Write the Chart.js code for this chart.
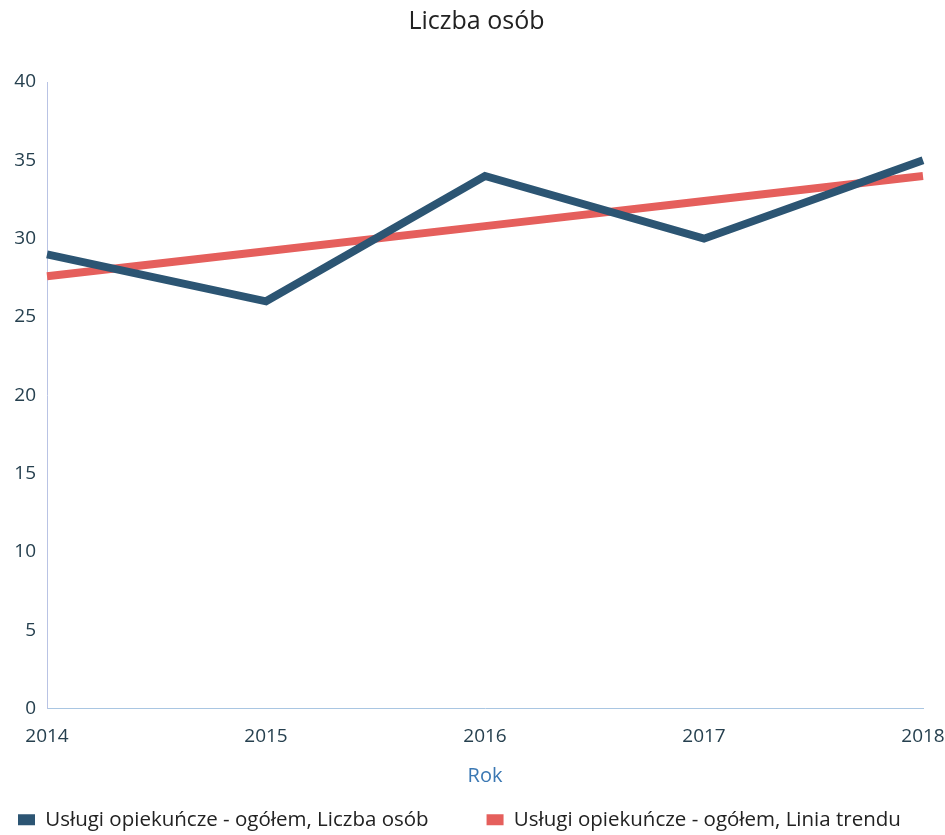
<!DOCTYPE html>
<html>
<head>
<meta charset="utf-8">
<script src="https://cdn.jsdelivr.net/npm/chart.js@4"></script>
<style>
    body { margin: 0; background: #fff; }
    #wrap { width: 945px; height: 835px; position: relative; }
</style>
</head>
<body>
<div id="wrap"><canvas id="chart"></canvas></div>
<script>
const years = ['2014', '2015', '2016', '2017', '2018'];
const liczbaOsob = [29, 26, 34, 30, 35];
const liniaTrendu = [27.6, 29.2, 30.8, 32.4, 34.0];
const yTicks = [0, 5, 10, 15, 20, 25, 30, 35, 40];
const seriesNames = ['Usługi opiekuńcze - ogółem, Liczba osób', 'Usługi opiekuńcze - ogółem, Linia trendu'];

const textColor = '#26404f';
const fontFamily = 'Open Sans';

const ctx = document.getElementById('chart').getContext('2d');
new Chart(ctx, {
    type: 'line',
    data: {
        labels: years,
        datasets: [{
            label: seriesNames[0],
            data: liczbaOsob,
            borderColor: '#2c5573',
            backgroundColor: '#2c5573',
            borderWidth: 8,
            pointRadius: 0,
            tension: 0
        }, {
            label: seriesNames[1],
            data: liniaTrendu,
            borderColor: '#e55f5c',
            backgroundColor: '#e55f5c',
            borderWidth: 8,
            pointRadius: 0,
            tension: 0
        }]
    },
    options: {
        responsive: true,
        maintainAspectRatio: false,
        animation: false,
        layout: {
            padding: { left: 8, right: 0, top: 0, bottom: -5 }
        },
        plugins: {
            title: {
                display: true,
                text: 'Liczba osób',
                color: '#222',
                font: { family: fontFamily, size: 25, weight: 'normal' },
                padding: { top: 7, bottom: 45 }
            },
            legend: {
                position: 'bottom',
                align: 'start',
                labels: {
                    boxWidth: 17,
                    boxHeight: 11,
                    padding: 10,
                    color: '#222',
                    font: { family: fontFamily, size: 20.5, lineHeight: 1.0 },
                    // flat boxes, and a bit of room between the two entries
                    generateLabels: (chart) => {
                        const items = Chart.defaults.plugins.legend.labels.generateLabels(chart);
                        items.forEach(it => { it.lineWidth = 0; });
                        items[0].text += '         ';
                        return items;
                    }
                }
            },
            tooltip: { enabled: false }
        },
        scales: {
            x: {
                offset: false,
                grid: { display: false, drawTicks: false },
                border: { color: '#a9c6e2', width: 1 },
                afterFit: (axis) => { axis.paddingRight = 22; },
                ticks: {
                    color: textColor,
                    font: { family: fontFamily, size: 19 },
                    maxRotation: 0,
                    padding: 16
                },
                title: {
                    display: true,
                    text: 'Rok',
                    color: '#3b78b3',
                    font: { family: fontFamily, size: 20 },
                    padding: { top: 1, bottom: 11 }
                }
            },
            y: {
                min: 0,
                max: 40,
                afterBuildTicks: (axis) => {
                    axis.ticks = yTicks.map(v => ({ value: v }));
                },
                afterFit: (axis) => { axis.width = 39; },
                grid: { display: false, drawTicks: false },
                border: { color: '#b9c3e4', width: 1 },
                ticks: {
                    color: textColor,
                    font: { family: fontFamily, size: 19 },
                    padding: 11
                }
            }
        }
    }
});
</script>
</body>
</html>
